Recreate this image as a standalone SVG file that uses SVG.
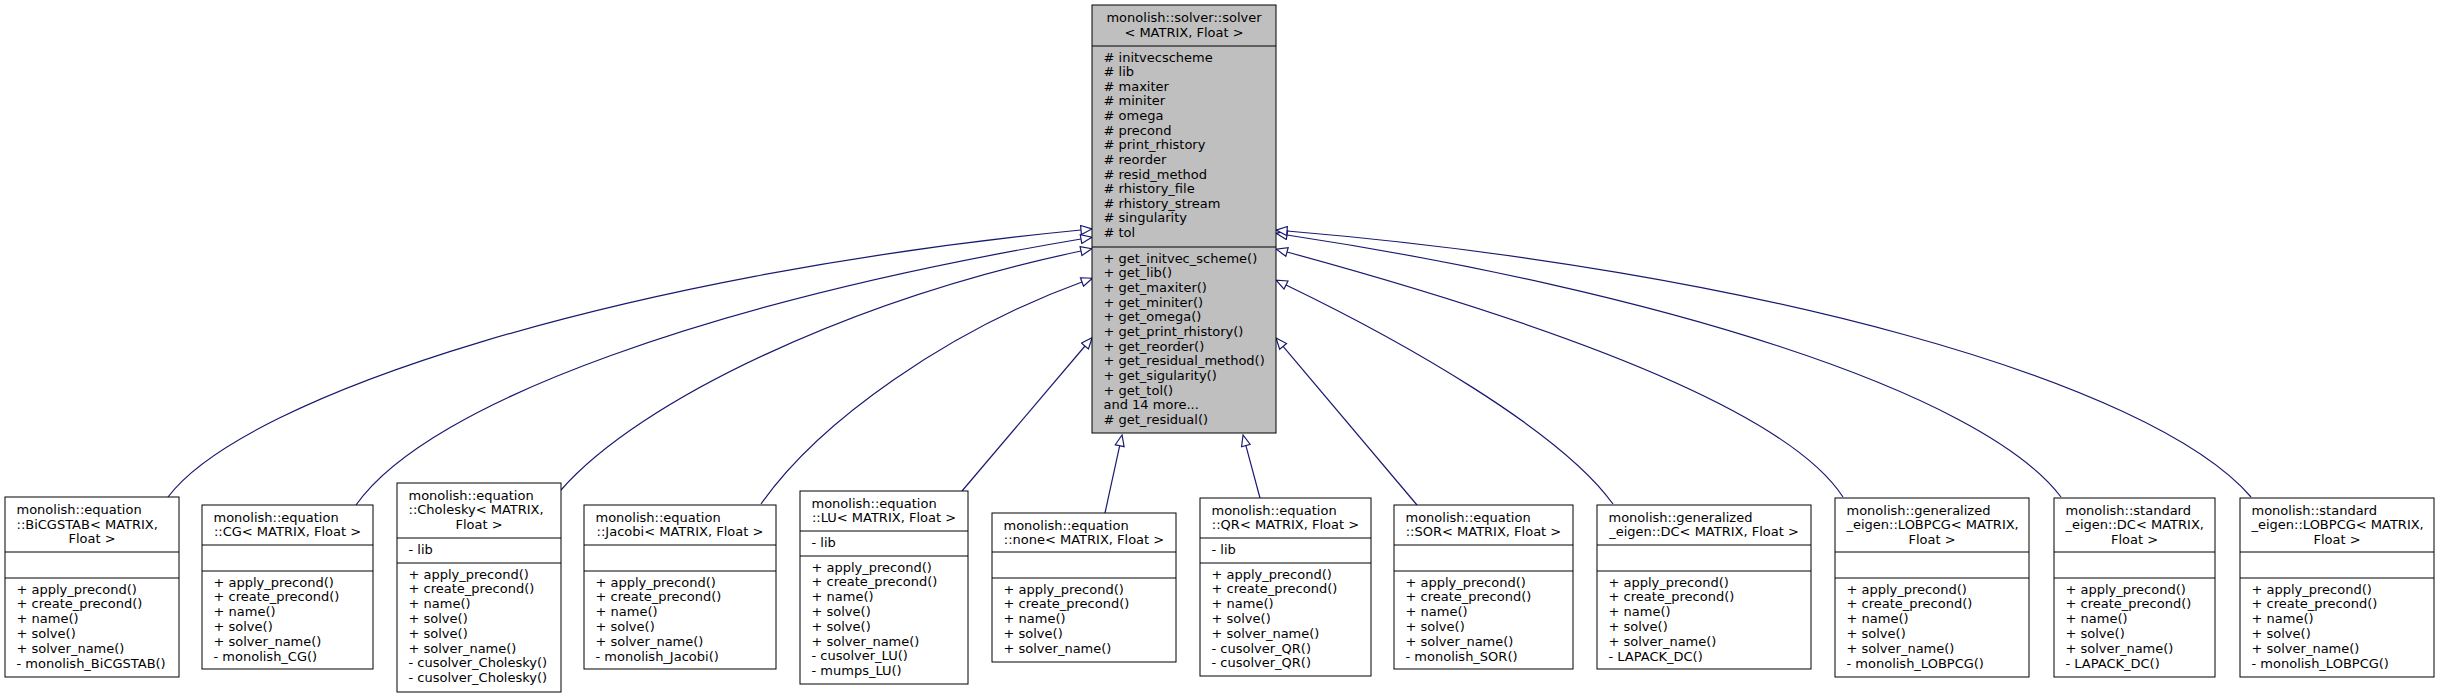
<svg xmlns="http://www.w3.org/2000/svg" width="2440" height="697" viewBox="0 0 2440 697">
<style>
  .bg { fill: #ffffff; }
  .box { fill: #ffffff; stroke: #000000; stroke-width: 1; }
  .main { fill: #bfbfbf; stroke: #000000; stroke-width: 1; }
  .sep { stroke: #000000; stroke-width: 1; fill: none; }
  text { font-family: "DejaVu Sans", "Liberation Sans", sans-serif; font-size: 13px; fill: #000000; }
  .c { text-anchor: middle; }
  .edge { fill: none; stroke: #191970; stroke-width: 1.2; marker-end: url(#ah); }
</style>
<defs>
  <marker id="ah" markerUnits="userSpaceOnUse" viewBox="-1 -1 13 11" refX="0" refY="4.5" markerWidth="13" markerHeight="11" orient="auto">
    <path d="M0,0 L11,4.5 L0,9 Z" fill="#ffffff" stroke="#191970" stroke-width="1.2"/>
  </marker>
</defs>
<rect class="bg" x="0" y="0" width="2440" height="697"/>

<g id="connectors">
  <path class="edge" d="M168,497 C245,395 620,275 1081,230"/>
  <path class="edge" d="M356,505 C430,400 720,300 1081,239"/>
  <path class="edge" d="M561,490 C640,400 850,300 1081,251"/>
  <path class="edge" d="M761,504 C820,420 950,330 1082,282"/>
  <path class="edge" d="M962,491 L1085,346"/>
  <path class="edge" d="M1105,513 L1119.7,445.7"/>
  <path class="edge" d="M1260,498 L1245.9,445.6"/>
  <path class="edge" d="M1417,505 L1283.1,346.4"/>
  <path class="edge" d="M1613,504 C1560,430 1400,340 1286,285"/>
  <path class="edge" d="M1843,497 C1780,400 1500,310 1287,252"/>
  <path class="edge" d="M2061,497 C1980,390 1650,290 1287,235"/>
  <path class="edge" d="M2251,497 C2150,380 1750,270 1287,231"/>
</g>

<g id="solver">
  <rect class="main" x="1092" y="5" width="184" height="428"/>
  <line class="sep" x1="1092" y1="46" x2="1276" y2="46"/>
  <line class="sep" x1="1092" y1="247" x2="1276" y2="247"/>
  <text class="c" x="1184" y="22">monolish::solver::solver</text>
  <text class="c" x="1184" y="36.6">&lt; MATRIX, Float &gt;</text>
  <text x="1103.5" y="61.5">
    <tspan x="1103.5"># initvecscheme</tspan>
    <tspan x="1103.5" dy="14.63"># lib</tspan>
    <tspan x="1103.5" dy="14.63"># maxiter</tspan>
    <tspan x="1103.5" dy="14.63"># miniter</tspan>
    <tspan x="1103.5" dy="14.63"># omega</tspan>
    <tspan x="1103.5" dy="14.63"># precond</tspan>
    <tspan x="1103.5" dy="14.63"># print_rhistory</tspan>
    <tspan x="1103.5" dy="14.63"># reorder</tspan>
    <tspan x="1103.5" dy="14.63"># resid_method</tspan>
    <tspan x="1103.5" dy="14.63"># rhistory_file</tspan>
    <tspan x="1103.5" dy="14.63"># rhistory_stream</tspan>
    <tspan x="1103.5" dy="14.63"># singularity</tspan>
    <tspan x="1103.5" dy="14.63"># tol</tspan>
  </text>
  <text x="1103.5" y="262.5">
    <tspan x="1103.5">+ get_initvec_scheme()</tspan>
    <tspan x="1103.5" dy="14.68">+ get_lib()</tspan>
    <tspan x="1103.5" dy="14.68">+ get_maxiter()</tspan>
    <tspan x="1103.5" dy="14.68">+ get_miniter()</tspan>
    <tspan x="1103.5" dy="14.68">+ get_omega()</tspan>
    <tspan x="1103.5" dy="14.68">+ get_print_rhistory()</tspan>
    <tspan x="1103.5" dy="14.68">+ get_reorder()</tspan>
    <tspan x="1103.5" dy="14.68">+ get_residual_method()</tspan>
    <tspan x="1103.5" dy="14.68">+ get_sigularity()</tspan>
    <tspan x="1103.5" dy="14.68">+ get_tol()</tspan>
    <tspan x="1103.5" dy="14.68">and 14 more...</tspan>
    <tspan x="1103.5" dy="14.68"># get_residual()</tspan>
  </text>
</g>

<g id="bicgstab">
  <rect class="box" x="5" y="497" width="174" height="180"/>
  <line class="sep" x1="5" y1="552" x2="179" y2="552"/>
  <line class="sep" x1="5" y1="578" x2="179" y2="578"/>
  <text x="16.5" y="514">monolish::equation</text>
  <text x="16.5" y="528.7">::BiCGSTAB&lt; MATRIX,</text>
  <text class="c" x="92" y="543.4">Float &gt;</text>
  <text x="16.5" y="593.5">
    <tspan x="16.5">+ apply_precond()</tspan>
    <tspan x="16.5" dy="14.8">+ create_precond()</tspan>
    <tspan x="16.5" dy="14.8">+ name()</tspan>
    <tspan x="16.5" dy="14.8">+ solve()</tspan>
    <tspan x="16.5" dy="14.8">+ solver_name()</tspan>
    <tspan x="16.5" dy="14.8">- monolish_BiCGSTAB()</tspan>
  </text>
</g>

<g id="cg">
  <rect class="box" x="202" y="505" width="171" height="164"/>
  <line class="sep" x1="202" y1="545" x2="373" y2="545"/>
  <line class="sep" x1="202" y1="571" x2="373" y2="571"/>
  <text x="213.5" y="521.5">monolish::equation</text>
  <text class="c" x="287.5" y="536.2">::CG&lt; MATRIX, Float &gt;</text>
  <text x="213.5" y="586.5">
    <tspan x="213.5">+ apply_precond()</tspan>
    <tspan x="213.5" dy="14.8">+ create_precond()</tspan>
    <tspan x="213.5" dy="14.8">+ name()</tspan>
    <tspan x="213.5" dy="14.8">+ solve()</tspan>
    <tspan x="213.5" dy="14.8">+ solver_name()</tspan>
    <tspan x="213.5" dy="14.8">- monolish_CG()</tspan>
  </text>
</g>

<g id="cholesky">
  <rect class="box" x="397" y="483" width="164" height="209"/>
  <line class="sep" x1="397" y1="538" x2="561" y2="538"/>
  <line class="sep" x1="397" y1="563" x2="561" y2="563"/>
  <text x="408.5" y="499.5">monolish::equation</text>
  <text x="408.5" y="514.2">::Cholesky&lt; MATRIX,</text>
  <text class="c" x="479" y="528.9">Float &gt;</text>
  <text x="408.5" y="553.5">- lib</text>
  <text x="408.5" y="578.5">
    <tspan x="408.5">+ apply_precond()</tspan>
    <tspan x="408.5" dy="14.8">+ create_precond()</tspan>
    <tspan x="408.5" dy="14.8">+ name()</tspan>
    <tspan x="408.5" dy="14.8">+ solve()</tspan>
    <tspan x="408.5" dy="14.8">+ solve()</tspan>
    <tspan x="408.5" dy="14.8">+ solver_name()</tspan>
    <tspan x="408.5" dy="14.8">- cusolver_Cholesky()</tspan>
    <tspan x="408.5" dy="14.8">- cusolver_Cholesky()</tspan>
  </text>
</g>

<g id="jacobi">
  <rect class="box" x="584" y="505" width="192" height="164"/>
  <line class="sep" x1="584" y1="545" x2="776" y2="545"/>
  <line class="sep" x1="584" y1="571" x2="776" y2="571"/>
  <text x="595.5" y="521.5">monolish::equation</text>
  <text class="c" x="680" y="536.2">::Jacobi&lt; MATRIX, Float &gt;</text>
  <text x="595.5" y="586.5">
    <tspan x="595.5">+ apply_precond()</tspan>
    <tspan x="595.5" dy="14.8">+ create_precond()</tspan>
    <tspan x="595.5" dy="14.8">+ name()</tspan>
    <tspan x="595.5" dy="14.8">+ solve()</tspan>
    <tspan x="595.5" dy="14.8">+ solver_name()</tspan>
    <tspan x="595.5" dy="14.8">- monolish_Jacobi()</tspan>
  </text>
</g>

<g id="lu">
  <rect class="box" x="800" y="491" width="168" height="193"/>
  <line class="sep" x1="800" y1="531" x2="968" y2="531"/>
  <line class="sep" x1="800" y1="556" x2="968" y2="556"/>
  <text x="811.5" y="507.5">monolish::equation</text>
  <text class="c" x="884" y="522.2">::LU&lt; MATRIX, Float &gt;</text>
  <text x="811.5" y="546.5">- lib</text>
  <text x="811.5" y="571.5">
    <tspan x="811.5">+ apply_precond()</tspan>
    <tspan x="811.5" dy="14.8">+ create_precond()</tspan>
    <tspan x="811.5" dy="14.8">+ name()</tspan>
    <tspan x="811.5" dy="14.8">+ solve()</tspan>
    <tspan x="811.5" dy="14.8">+ solve()</tspan>
    <tspan x="811.5" dy="14.8">+ solver_name()</tspan>
    <tspan x="811.5" dy="14.8">- cusolver_LU()</tspan>
    <tspan x="811.5" dy="14.8">- mumps_LU()</tspan>
  </text>
</g>

<g id="none">
  <rect class="box" x="992" y="513" width="184" height="149"/>
  <line class="sep" x1="992" y1="552" x2="1176" y2="552"/>
  <line class="sep" x1="992" y1="578" x2="1176" y2="578"/>
  <text x="1003.5" y="529.5">monolish::equation</text>
  <text class="c" x="1084" y="544.2">::none&lt; MATRIX, Float &gt;</text>
  <text x="1003.5" y="593.5">
    <tspan x="1003.5">+ apply_precond()</tspan>
    <tspan x="1003.5" dy="14.8">+ create_precond()</tspan>
    <tspan x="1003.5" dy="14.8">+ name()</tspan>
    <tspan x="1003.5" dy="14.8">+ solve()</tspan>
    <tspan x="1003.5" dy="14.8">+ solver_name()</tspan>
  </text>
</g>

<g id="qr">
  <rect class="box" x="1200" y="498" width="171" height="178"/>
  <line class="sep" x1="1200" y1="538" x2="1371" y2="538"/>
  <line class="sep" x1="1200" y1="563" x2="1371" y2="563"/>
  <text x="1211.5" y="514.5">monolish::equation</text>
  <text class="c" x="1285.5" y="529.2">::QR&lt; MATRIX, Float &gt;</text>
  <text x="1211.5" y="553.5">- lib</text>
  <text x="1211.5" y="578.5">
    <tspan x="1211.5">+ apply_precond()</tspan>
    <tspan x="1211.5" dy="14.8">+ create_precond()</tspan>
    <tspan x="1211.5" dy="14.8">+ name()</tspan>
    <tspan x="1211.5" dy="14.8">+ solve()</tspan>
    <tspan x="1211.5" dy="14.8">+ solver_name()</tspan>
    <tspan x="1211.5" dy="14.8">- cusolver_QR()</tspan>
    <tspan x="1211.5" dy="14.8">- cusolver_QR()</tspan>
  </text>
</g>

<g id="sor">
  <rect class="box" x="1394" y="505" width="179" height="164"/>
  <line class="sep" x1="1394" y1="545" x2="1573" y2="545"/>
  <line class="sep" x1="1394" y1="571" x2="1573" y2="571"/>
  <text x="1405.5" y="521.5">monolish::equation</text>
  <text class="c" x="1483.5" y="536.2">::SOR&lt; MATRIX, Float &gt;</text>
  <text x="1405.5" y="586.5">
    <tspan x="1405.5">+ apply_precond()</tspan>
    <tspan x="1405.5" dy="14.8">+ create_precond()</tspan>
    <tspan x="1405.5" dy="14.8">+ name()</tspan>
    <tspan x="1405.5" dy="14.8">+ solve()</tspan>
    <tspan x="1405.5" dy="14.8">+ solver_name()</tspan>
    <tspan x="1405.5" dy="14.8">- monolish_SOR()</tspan>
  </text>
</g>

<g id="gen_dc">
  <rect class="box" x="1597" y="505" width="214" height="164"/>
  <line class="sep" x1="1597" y1="545" x2="1811" y2="545"/>
  <line class="sep" x1="1597" y1="571" x2="1811" y2="571"/>
  <text x="1608.5" y="521.5">monolish::generalized</text>
  <text class="c" x="1704" y="536.2">_eigen::DC&lt; MATRIX, Float &gt;</text>
  <text x="1608.5" y="586.5">
    <tspan x="1608.5">+ apply_precond()</tspan>
    <tspan x="1608.5" dy="14.8">+ create_precond()</tspan>
    <tspan x="1608.5" dy="14.8">+ name()</tspan>
    <tspan x="1608.5" dy="14.8">+ solve()</tspan>
    <tspan x="1608.5" dy="14.8">+ solver_name()</tspan>
    <tspan x="1608.5" dy="14.8">- LAPACK_DC()</tspan>
  </text>
</g>

<g id="gen_lobpcg">
  <rect class="box" x="1835" y="498" width="194" height="179"/>
  <line class="sep" x1="1835" y1="552" x2="2029" y2="552"/>
  <line class="sep" x1="1835" y1="578" x2="2029" y2="578"/>
  <text x="1846.5" y="514.5">monolish::generalized</text>
  <text x="1846.5" y="529.2">_eigen::LOBPCG&lt; MATRIX,</text>
  <text class="c" x="1932" y="543.9">Float &gt;</text>
  <text x="1846.5" y="593.5">
    <tspan x="1846.5">+ apply_precond()</tspan>
    <tspan x="1846.5" dy="14.8">+ create_precond()</tspan>
    <tspan x="1846.5" dy="14.8">+ name()</tspan>
    <tspan x="1846.5" dy="14.8">+ solve()</tspan>
    <tspan x="1846.5" dy="14.8">+ solver_name()</tspan>
    <tspan x="1846.5" dy="14.8">- monolish_LOBPCG()</tspan>
  </text>
</g>

<g id="std_dc">
  <rect class="box" x="2054" y="498" width="161" height="179"/>
  <line class="sep" x1="2054" y1="552" x2="2215" y2="552"/>
  <line class="sep" x1="2054" y1="578" x2="2215" y2="578"/>
  <text x="2065.5" y="514.5">monolish::standard</text>
  <text x="2065.5" y="529.2">_eigen::DC&lt; MATRIX,</text>
  <text class="c" x="2134.5" y="543.9">Float &gt;</text>
  <text x="2065.5" y="593.5">
    <tspan x="2065.5">+ apply_precond()</tspan>
    <tspan x="2065.5" dy="14.8">+ create_precond()</tspan>
    <tspan x="2065.5" dy="14.8">+ name()</tspan>
    <tspan x="2065.5" dy="14.8">+ solve()</tspan>
    <tspan x="2065.5" dy="14.8">+ solver_name()</tspan>
    <tspan x="2065.5" dy="14.8">- LAPACK_DC()</tspan>
  </text>
</g>

<g id="std_lobpcg">
  <rect class="box" x="2240" y="498" width="194" height="179"/>
  <line class="sep" x1="2240" y1="552" x2="2434" y2="552"/>
  <line class="sep" x1="2240" y1="578" x2="2434" y2="578"/>
  <text x="2251.5" y="514.5">monolish::standard</text>
  <text x="2251.5" y="529.2">_eigen::LOBPCG&lt; MATRIX,</text>
  <text class="c" x="2337" y="543.9">Float &gt;</text>
  <text x="2251.5" y="593.5">
    <tspan x="2251.5">+ apply_precond()</tspan>
    <tspan x="2251.5" dy="14.8">+ create_precond()</tspan>
    <tspan x="2251.5" dy="14.8">+ name()</tspan>
    <tspan x="2251.5" dy="14.8">+ solve()</tspan>
    <tspan x="2251.5" dy="14.8">+ solver_name()</tspan>
    <tspan x="2251.5" dy="14.8">- monolish_LOBPCG()</tspan>
  </text>
</g>
</svg>
